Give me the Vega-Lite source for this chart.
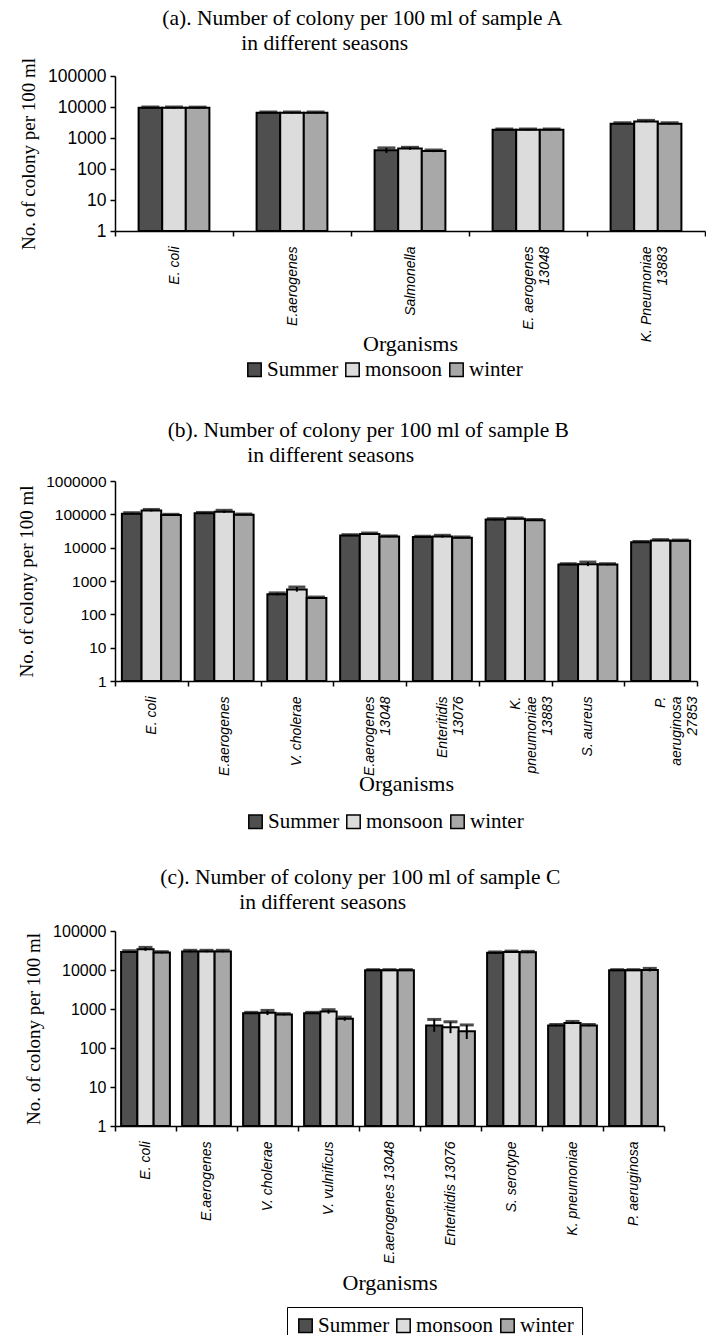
{
  "$schema": "https://vega.github.io/schema/vega-lite/v6.json",
  "background": "white",
  "padding": {"left": 17, "top": 7, "right": 0, "bottom": 0},
  "spacing": 34,
  "config": {
    "view": {"stroke": null},
    "title": {"font": "Liberation Serif", "fontSize": 21.5, "fontWeight": "normal", "lineHeight": 25, "color": "black", "anchor": "middle", "frame": "bounds"},
    "axis": {"domainColor": "black", "tickColor": "black", "labelColor": "black", "titleColor": "black", "grid": false, "tickSize": 5, "domainWidth": 1.5, "tickWidth": 1.5, "titleFont": "Liberation Serif", "titleFontWeight": "normal", "labelFont": "Liberation Sans"},
    "axisX": {"labelFontStyle": "italic", "labelFontSize": 14, "labelPadding": 10, "titleFontSize": 22, "labelAngle": -90, "tickBand": "extent", "labelLineHeight": 16},
    "axisY": {"labelFontSize": 17, "titleFontSize": 19, "titlePadding": 9, "labelPadding": 4},
    "legend": {"orient": "none", "direction": "horizontal", "labelFont": "Liberation Serif", "labelFontSize": 21, "labelColor": "black", "symbolType": "square", "symbolSize": 180, "symbolStrokeColor": "black", "symbolStrokeWidth": 1.5, "columnPadding": 3, "labelOffset": 2}
  },
  "datasets": {
    "a": [
      {"org": "E. coli", "season": "Summer", "v": 9500, "lo": 9000, "hi": 10000},
      {"org": "E. coli", "season": "monsoon", "v": 9500, "lo": 9000, "hi": 10000},
      {"org": "E. coli", "season": "winter", "v": 9400, "lo": 8900, "hi": 9900},
      {"org": "E.aerogenes", "season": "Summer", "v": 6500, "lo": 6200, "hi": 6900},
      {"org": "E.aerogenes", "season": "monsoon", "v": 6500, "lo": 6200, "hi": 6900},
      {"org": "E.aerogenes", "season": "winter", "v": 6500, "lo": 6200, "hi": 6900},
      {"org": "Salmonella", "season": "Summer", "v": 400, "lo": 330, "hi": 480},
      {"org": "Salmonella", "season": "monsoon", "v": 460, "lo": 420, "hi": 500},
      {"org": "Salmonella", "season": "winter", "v": 380, "lo": 350, "hi": 410},
      {"org": "E. aerogenes|13048", "season": "Summer", "v": 1850, "lo": 1760, "hi": 1950},
      {"org": "E. aerogenes|13048", "season": "monsoon", "v": 1850, "lo": 1760, "hi": 1950},
      {"org": "E. aerogenes|13048", "season": "winter", "v": 1850, "lo": 1760, "hi": 1950},
      {"org": "K. Pneumoniae|13883", "season": "Summer", "v": 2900, "lo": 2750, "hi": 3100},
      {"org": "K. Pneumoniae|13883", "season": "monsoon", "v": 3400, "lo": 3200, "hi": 3700},
      {"org": "K. Pneumoniae|13883", "season": "winter", "v": 2900, "lo": 2750, "hi": 3100}
    ],
    "b": [
      {"org": "E. coli", "season": "Summer", "v": 105000, "lo": 100000, "hi": 112000},
      {"org": "E. coli", "season": "monsoon", "v": 130000, "lo": 122000, "hi": 140000},
      {"org": "E. coli", "season": "winter", "v": 95000, "lo": 90000, "hi": 100000},
      {"org": "E.aerogenes", "season": "Summer", "v": 108000, "lo": 102000, "hi": 114000},
      {"org": "E.aerogenes", "season": "monsoon", "v": 120000, "lo": 110000, "hi": 132000},
      {"org": "E.aerogenes", "season": "winter", "v": 98000, "lo": 94000, "hi": 102000},
      {"org": "V. cholerae", "season": "Summer", "v": 400, "lo": 370, "hi": 440},
      {"org": "V. cholerae", "season": "monsoon", "v": 560, "lo": 480, "hi": 660},
      {"org": "V. cholerae", "season": "winter", "v": 310, "lo": 295, "hi": 330},
      {"org": "E.aerogenes|13048", "season": "Summer", "v": 23000, "lo": 22000, "hi": 24500},
      {"org": "E.aerogenes|13048", "season": "monsoon", "v": 25500, "lo": 24000, "hi": 27500},
      {"org": "E.aerogenes|13048", "season": "winter", "v": 21500, "lo": 20500, "hi": 22500},
      {"org": "Enteritidis|13076", "season": "Summer", "v": 21000, "lo": 20000, "hi": 22000},
      {"org": "Enteritidis|13076", "season": "monsoon", "v": 21500, "lo": 20000, "hi": 23500},
      {"org": "Enteritidis|13076", "season": "winter", "v": 20000, "lo": 19000, "hi": 21000},
      {"org": "K.|pneumoniae|13883", "season": "Summer", "v": 70000, "lo": 66000, "hi": 74000},
      {"org": "K.|pneumoniae|13883", "season": "monsoon", "v": 74000, "lo": 70000, "hi": 78000},
      {"org": "K.|pneumoniae|13883", "season": "winter", "v": 67000, "lo": 64000, "hi": 70000},
      {"org": "S. aureus", "season": "Summer", "v": 3100, "lo": 2950, "hi": 3300},
      {"org": "S. aureus", "season": "monsoon", "v": 3200, "lo": 2800, "hi": 3700},
      {"org": "S. aureus", "season": "winter", "v": 3100, "lo": 2950, "hi": 3300},
      {"org": "P.|aeruginosa|27853", "season": "Summer", "v": 14500, "lo": 13800, "hi": 15300},
      {"org": "P.|aeruginosa|27853", "season": "monsoon", "v": 16500, "lo": 15700, "hi": 17400},
      {"org": "P.|aeruginosa|27853", "season": "winter", "v": 16000, "lo": 15200, "hi": 16900}
    ],
    "c": [
      {"org": "E. coli", "season": "Summer", "v": 29000, "lo": 27500, "hi": 31000},
      {"org": "E. coli", "season": "monsoon", "v": 34000, "lo": 31000, "hi": 38000},
      {"org": "E. coli", "season": "winter", "v": 28000, "lo": 26500, "hi": 29500},
      {"org": "E.aerogenes", "season": "Summer", "v": 30000, "lo": 28500, "hi": 32000},
      {"org": "E.aerogenes", "season": "monsoon", "v": 30000, "lo": 28500, "hi": 32000},
      {"org": "E.aerogenes", "season": "winter", "v": 30000, "lo": 28500, "hi": 32000},
      {"org": "V. cholerae", "season": "Summer", "v": 780, "lo": 740, "hi": 820},
      {"org": "V. cholerae", "season": "monsoon", "v": 800, "lo": 700, "hi": 920},
      {"org": "V. cholerae", "season": "winter", "v": 720, "lo": 685, "hi": 760},
      {"org": "V. vulnificus", "season": "Summer", "v": 780, "lo": 740, "hi": 820},
      {"org": "V. vulnificus", "season": "monsoon", "v": 860, "lo": 760, "hi": 960},
      {"org": "V. vulnificus", "season": "winter", "v": 560, "lo": 500, "hi": 620},
      {"org": "E.aerogenes 13048", "season": "Summer", "v": 9800, "lo": 9400, "hi": 10200},
      {"org": "E.aerogenes 13048", "season": "monsoon", "v": 9800, "lo": 9400, "hi": 10200},
      {"org": "E.aerogenes 13048", "season": "winter", "v": 9800, "lo": 9400, "hi": 10200},
      {"org": "Enteritidis 13076", "season": "Summer", "v": 380, "lo": 260, "hi": 540},
      {"org": "Enteritidis 13076", "season": "monsoon", "v": 340, "lo": 240, "hi": 470},
      {"org": "Enteritidis 13076", "season": "winter", "v": 270, "lo": 170, "hi": 390},
      {"org": "S. serotype", "season": "Summer", "v": 27500, "lo": 26000, "hi": 29000},
      {"org": "S. serotype", "season": "monsoon", "v": 29000, "lo": 27500, "hi": 30500},
      {"org": "S. serotype", "season": "winter", "v": 28500, "lo": 27000, "hi": 30000},
      {"org": "K. pneumoniae", "season": "Summer", "v": 380, "lo": 360, "hi": 400},
      {"org": "K. pneumoniae", "season": "monsoon", "v": 440, "lo": 410, "hi": 480},
      {"org": "K. pneumoniae", "season": "winter", "v": 380, "lo": 360, "hi": 400},
      {"org": "P. aeruginosa", "season": "Summer", "v": 9800, "lo": 9400, "hi": 10200},
      {"org": "P. aeruginosa", "season": "monsoon", "v": 9800, "lo": 9400, "hi": 10200},
      {"org": "P. aeruginosa", "season": "winter", "v": 10000, "lo": 9200, "hi": 11000}
    ]
  },
  "resolve": {"scale": {"x": "independent", "y": "independent", "xOffset": "independent", "color": "independent"}, "legend": {"color": "independent"}},
  "vconcat": [
    {
      "width": 590, "height": 155,
      "title": {"text": ["\u2060\u2003\u2060\u2003\u2060\u2003\u2060\u2002\u2060(a). Number of colony per 100 ml of sample A", "in different seasons"], "offset": 3, "dx": -38},
      "data": {"name": "a"},
      "encoding": {
        "x": {"field": "org", "type": "nominal", "sort": null, "scale": {"paddingInner": 0, "paddingOuter": 0}, "axis": {"title": "Organisms", "labelExpr": "split(datum.label, '|')", "titlePadding": -8}},
        "xOffset": {"field": "season", "type": "nominal", "sort": ["Summer", "monsoon", "winter"], "scale": {"paddingInner": 0, "paddingOuter": 1.385}}
      },
      "layer": [
        {"mark": {"type": "bar", "stroke": "black", "strokeWidth": 2},
         "encoding": {
           "y": {"field": "v", "type": "quantitative", "title": "No. of colony per 100 ml", "scale": {"type": "log", "domain": [1, 100000]}, "axis": {"values": [1, 10, 100, 1000, 10000, 100000], "format": "d", "labelFontSize": 17.5}},
           "y2": {"datum": 1},
           "color": {"field": "season", "type": "nominal", "sort": ["Summer", "monsoon", "winter"], "scale": {"domain": ["Summer", "monsoon", "winter"], "range": ["#4f4f4f", "#dcdcdc", "#a8a8a8"]}, "legend": {"title": null, "padding": 5, "legendX": 124, "legendY": 278}}
         }},
        {"mark": {"type": "rule", "color": "black", "strokeWidth": 2},
         "encoding": {"y": {"field": "lo", "type": "quantitative", "title": "No. of colony per 100 ml"}, "y2": {"field": "hi"}}},
        {"mark": {"type": "tick", "color": "black", "thickness": 3, "size": 18},
         "encoding": {"y": {"field": "hi", "type": "quantitative", "title": "No. of colony per 100 ml"}}}
      ]
    },
    {
      "width": 582, "height": 200,
      "title": {"text": ["\u2060\u2003\u2060\u2003\u2060\u2003\u2060\u2002\u2060(b). Number of colony per 100 ml of sample B", "in different seasons"], "offset": 8, "dx": -28},
      "data": {"name": "b"},
      "encoding": {
        "x": {"field": "org", "type": "nominal", "sort": null, "scale": {"paddingInner": 0, "paddingOuter": 0}, "axis": {"title": "Organisms", "labelExpr": "split(datum.label, '|')", "titlePadding": -2}},
        "xOffset": {"field": "season", "type": "nominal", "sort": ["Summer", "monsoon", "winter"], "scale": {"paddingInner": 0, "paddingOuter": 0.35}}
      },
      "layer": [
        {"mark": {"type": "bar", "stroke": "black", "strokeWidth": 2},
         "encoding": {
           "y": {"field": "v", "type": "quantitative", "title": "No. of colony per 100 ml", "scale": {"type": "log", "domain": [1, 1000000]}, "axis": {"values": [1, 10, 100, 1000, 10000, 100000, 1000000], "format": "d", "labelFontSize": 15.5}},
           "y2": {"datum": 1},
           "color": {"field": "season", "type": "nominal", "sort": ["Summer", "monsoon", "winter"], "scale": {"domain": ["Summer", "monsoon", "winter"], "range": ["#4f4f4f", "#dcdcdc", "#a8a8a8"]}, "legend": {"title": null, "legendX": 130, "legendY": 330}}
         }},
        {"mark": {"type": "rule", "color": "black", "strokeWidth": 2},
         "encoding": {"y": {"field": "lo", "type": "quantitative", "title": "No. of colony per 100 ml"}, "y2": {"field": "hi"}}},
        {"mark": {"type": "tick", "color": "black", "thickness": 3, "size": 17},
         "encoding": {"y": {"field": "hi", "type": "quantitative", "title": "No. of colony per 100 ml"}}}
      ]
    },
    {
      "width": 549, "height": 195,
      "title": {"text": ["\u2060\u2003\u2060\u2003\u2060\u2003\u2060\u2002\u2060(c). Number of colony per 100 ml of sample C", "in different seasons"], "offset": 10, "dx": -22},
      "data": {"name": "c"},
      "encoding": {
        "x": {"field": "org", "type": "nominal", "sort": null, "scale": {"paddingInner": 0, "paddingOuter": 0}, "axis": {"title": "Organisms", "titlePadding": 9}},
        "xOffset": {"field": "season", "type": "nominal", "sort": ["Summer", "monsoon", "winter"], "scale": {"paddingInner": 0, "paddingOuter": 0.375}}
      },
      "layer": [
        {"mark": {"type": "bar", "stroke": "black", "strokeWidth": 2},
         "encoding": {
           "y": {"field": "v", "type": "quantitative", "title": "No. of colony per 100 ml", "scale": {"type": "log", "domain": [1, 100000]}, "axis": {"values": [1, 10, 100, 1000, 10000, 100000], "format": "d", "labelFontSize": 16}},
           "y2": {"datum": 1},
           "color": {"field": "season", "type": "nominal", "sort": ["Summer", "monsoon", "winter"], "scale": {"domain": ["Summer", "monsoon", "winter"], "range": ["#4f4f4f", "#dcdcdc", "#a8a8a8"]}, "legend": {"title": null, "strokeColor": "black", "padding": 8, "legendX": 172, "legendY": 376}}
         }},
        {"mark": {"type": "rule", "color": "black", "strokeWidth": 2},
         "encoding": {"y": {"field": "lo", "type": "quantitative", "title": "No. of colony per 100 ml"}, "y2": {"field": "hi"}}},
        {"mark": {"type": "tick", "color": "black", "thickness": 3, "size": 14},
         "encoding": {"y": {"field": "hi", "type": "quantitative", "title": "No. of colony per 100 ml"}}}
      ]
    }
  ]
}
